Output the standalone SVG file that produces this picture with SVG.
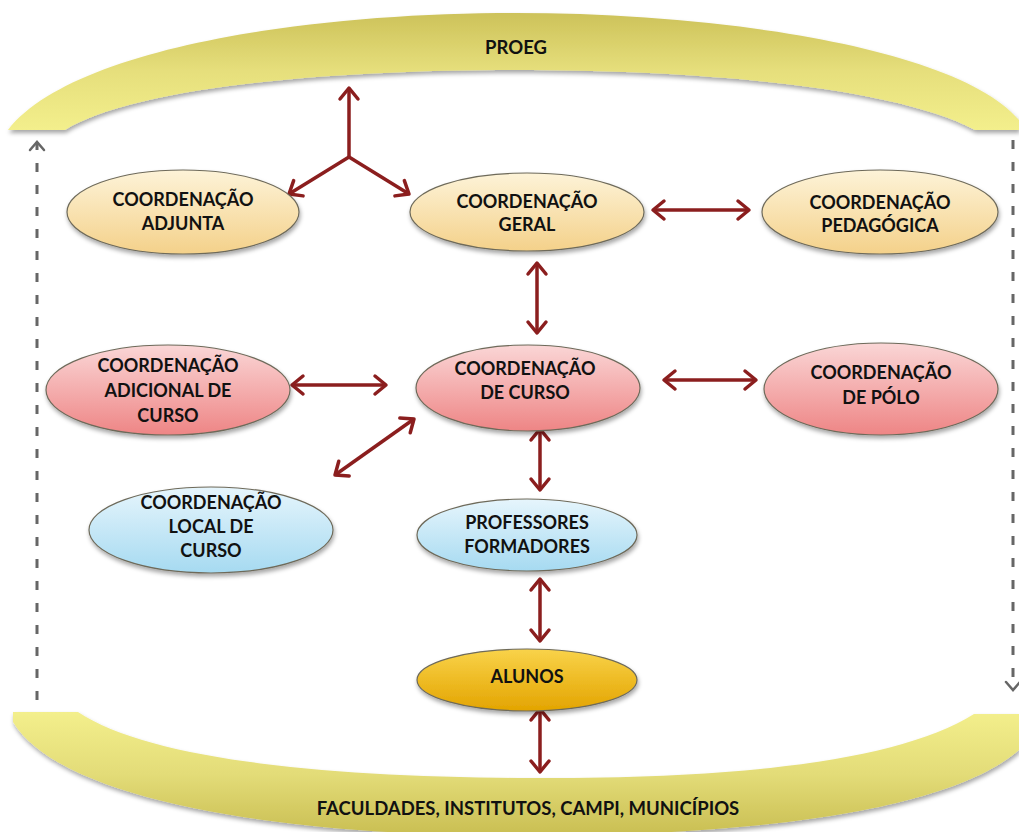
<svg xmlns="http://www.w3.org/2000/svg" width="1019" height="832" viewBox="0 0 1019 832">
<defs>
<linearGradient id="gTop" x1="0" y1="13" x2="0" y2="130" gradientUnits="userSpaceOnUse">
<stop offset="0" stop-color="#cdc25a"/><stop offset="0.5" stop-color="#e6df7c"/><stop offset="1" stop-color="#f3ef8c"/>
</linearGradient>
<linearGradient id="gBot" x1="0" y1="712" x2="0" y2="836" gradientUnits="userSpaceOnUse">
<stop offset="0" stop-color="#f3ef8c"/><stop offset="0.5" stop-color="#e3dc78"/><stop offset="1" stop-color="#c9be52"/>
</linearGradient>
<linearGradient id="gCream" x1="0" y1="0" x2="0" y2="1">
<stop offset="0" stop-color="#fdf3d8"/><stop offset="1" stop-color="#f4d18a"/>
</linearGradient>
<linearGradient id="gPink" x1="0" y1="0" x2="0" y2="1">
<stop offset="0" stop-color="#fad6d6"/><stop offset="1" stop-color="#ee8585"/>
</linearGradient>
<linearGradient id="gBlue" x1="0" y1="0" x2="0" y2="1">
<stop offset="0" stop-color="#e6f5fc"/><stop offset="1" stop-color="#a6daf1"/>
</linearGradient>
<linearGradient id="gGold" x1="0" y1="0" x2="0" y2="1">
<stop offset="0" stop-color="#f9d34a"/><stop offset="1" stop-color="#e3a400"/>
</linearGradient>
<filter id="sh" x="-10%" y="-10%" width="120%" height="140%">
<feDropShadow dx="1" dy="3" stdDeviation="2" flood-color="#000" flood-opacity="0.35"/>
</filter>
<marker id="ah" markerUnits="userSpaceOnUse" markerWidth="24" markerHeight="24" viewBox="0 0 24 24" refX="14" refY="12" orient="auto-start-reverse">
<path d="M3,3 L14,12 L3,21" fill="none" stroke="#8b1e1e" stroke-width="3.5" stroke-linecap="round" stroke-linejoin="round"/>
</marker>
<marker id="gh" markerUnits="userSpaceOnUse" markerWidth="20" markerHeight="20" viewBox="0 0 20 20" refX="12" refY="10" orient="auto-start-reverse">
<path d="M4,3 L12,10 L4,17" fill="none" stroke="#666" stroke-width="2.5" stroke-linecap="round"/>
</marker>
<style>
.n text{font-family:Lato,"Open Sans","Liberation Sans",sans-serif;font-weight:bold;font-size:18px;fill:#111;text-anchor:middle}
.n ellipse{stroke:#6e6a5a;stroke-width:1.2;filter:url(#sh)}
.c{fill:url(#gCream)}.p{fill:url(#gPink)}.b{fill:url(#gBlue)}.g{fill:url(#gGold)}
.a{stroke:#8b1e1e;stroke-width:3.5;fill:none;marker-end:url(#ah)}
.d{marker-start:url(#ah)}
.dash{stroke:#666;stroke-width:3;stroke-dasharray:9 13;fill:none}
.band{filter:url(#sh)}
.bt{font-family:Lato,"Open Sans","Liberation Sans",sans-serif;font-weight:bold;font-size:18.5px;fill:#111;text-anchor:middle}
</style>
</defs>
<rect width="1019" height="832" fill="#ffffff"/>

<g id="proeg">
<path class="band" fill="url(#gTop)" d="M8,130 C70,50 300,13 515,13 C730,13 960,50 1019,120 L1019,130 L975,130 C900,90 720,70 515,70 C310,70 130,90 65,130 Z"/>
<text class="bt" x="516" y="54">PROEG</text>
</g>

<g id="faculdades">
<path class="band" fill="url(#gBot)" d="M13,712 L78,712 C150,760 330,778 540,778 C750,778 900,760 974,714 L1019,714 L1019,750 C950,810 760,836 520,836 C280,836 60,800 13,722 Z"/>
<text class="bt" x="528" y="815">FACULDADES, INSTITUTOS, CAMPI, MUNICÍPIOS</text>
</g>

<g id="connectors">
<line class="a" x1="349" y1="157" x2="349" y2="88"/>
<line class="a" x1="349" y1="157" x2="289" y2="194"/>
<line class="a" x1="349" y1="157" x2="409" y2="194"/>
<line class="a d" x1="653" y1="210" x2="749" y2="210"/>
<line class="a d" x1="537" y1="263" x2="537" y2="333"/>
<line class="a d" x1="292" y1="385" x2="386" y2="385"/>
<line class="a d" x1="664" y1="380" x2="756" y2="380"/>
<line class="a d" x1="414" y1="419" x2="335" y2="475"/>
<line class="a d" x1="540" y1="429" x2="540" y2="490"/>
<line class="a d" x1="540" y1="579" x2="540" y2="641"/>
<line class="a d" x1="540" y1="709" x2="540" y2="772"/>
<line class="dash" x1="37" y1="700" x2="37" y2="142" marker-end="url(#gh)"/>
<line class="dash" x1="1013" y1="140" x2="1013" y2="690" marker-end="url(#gh)"/>
</g>

<g id="adjunta" class="n">
<ellipse class="c" cx="183" cy="212" rx="116" ry="42"/>
<text x="183" y="206">COORDENAÇÃO</text><text x="183" y="230">ADJUNTA</text>
</g>
<g id="geral" class="n">
<ellipse class="c" cx="527" cy="212" rx="117" ry="39"/>
<text x="527" y="208">COORDENAÇÃO</text><text x="527" y="231">GERAL</text>
</g>
<g id="pedagogica" class="n">
<ellipse class="c" cx="880" cy="212" rx="118" ry="42"/>
<text x="880" y="209">COORDENAÇÃO</text><text x="880" y="232">PEDAGÓGICA</text>
</g>
<g id="adicional" class="n">
<ellipse class="p" cx="168" cy="390" rx="122" ry="45"/>
<text x="168" y="372">COORDENAÇÃO</text><text x="168" y="397">ADICIONAL DE</text><text x="168" y="422">CURSO</text>
</g>
<g id="curso" class="n">
<ellipse class="p" cx="528" cy="388" rx="112" ry="43"/>
<text x="525" y="375">COORDENAÇÃO</text><text x="525" y="399">DE CURSO</text>
</g>
<g id="polo" class="n">
<ellipse class="p" cx="881" cy="389" rx="117" ry="46"/>
<text x="881" y="379">COORDENAÇÃO</text><text x="881" y="404">DE PÓLO</text>
</g>
<g id="local" class="n">
<ellipse class="b" cx="211" cy="530" rx="122" ry="43"/>
<text x="211" y="509">COORDENAÇÃO</text><text x="211" y="533">LOCAL DE</text><text x="211" y="557">CURSO</text>
</g>
<g id="professores" class="n">
<ellipse class="b" cx="527" cy="535" rx="110" ry="36"/>
<text x="527" y="529">PROFESSORES</text><text x="527" y="553">FORMADORES</text>
</g>
<g id="alunos" class="n">
<ellipse class="g" cx="527" cy="680" rx="110" ry="31"/>
<text x="527" y="683">ALUNOS</text>
</g>
</svg>
